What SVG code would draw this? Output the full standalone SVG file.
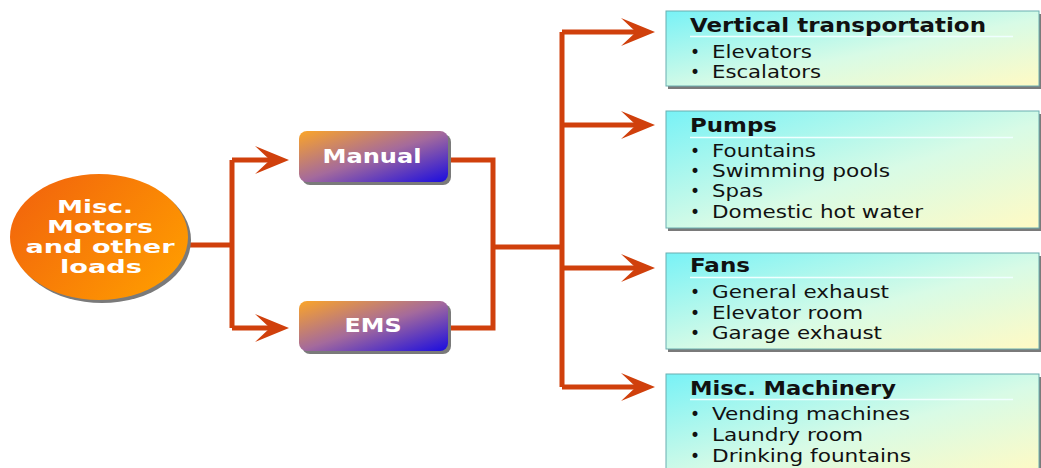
<svg xmlns="http://www.w3.org/2000/svg" width="1041" height="468" viewBox="0 0 1041 468">
<defs>
<linearGradient id="gOrange" x1="0" y1="0.2" x2="1" y2="0.8">
<stop offset="0" stop-color="#f2650c"/>
<stop offset="1" stop-color="#ff9d00"/>
</linearGradient>
<linearGradient id="gProc" x1="0" y1="0" x2="1" y2="1">
<stop offset="0" stop-color="#fba528"/>
<stop offset="0.5" stop-color="#a46a9c"/>
<stop offset="1" stop-color="#1a0ce0"/>
</linearGradient>
<linearGradient id="gBox" x1="0" y1="0" x2="1" y2="1">
<stop offset="0" stop-color="#78f2f6"/>
<stop offset="0.55" stop-color="#d8fbe6"/>
<stop offset="1" stop-color="#fffac4"/>
</linearGradient>
<polygon id="ah" points="0,0 -34,-14 -19,0 -34,14"/>
</defs>
<style>
.ln{fill:none;stroke:#d0400c;stroke-width:5;stroke-linejoin:miter;stroke-linecap:butt}
.arr{fill:#d0400c}
.sh{fill:#7a7a7a}
.box{fill:url(#gBox);stroke:#6aaeb0;stroke-width:1}
.proc{fill:url(#gProc)}
.wt{font-family:"DejaVu Sans",Verdana,sans-serif;font-weight:bold;fill:#ffffff;text-anchor:middle}
.tt{font-family:"DejaVu Sans",Verdana,sans-serif;font-weight:bold;font-size:19px;fill:#111111}
.it{font-family:"DejaVu Sans",Verdana,sans-serif;font-size:17px;fill:#111111}
.ul{stroke:#f0ffff;stroke-width:1.5}
</style>
<rect width="1041" height="468" fill="#ffffff"/>

<g id="connectors">
<path class="ln" d="M188,245 H232 M232,160 V328 M232,160 H272 M232,328 H272"/>
<use href="#ah" class="arr" x="289" y="160"/>
<use href="#ah" class="arr" x="289" y="328"/>
<path class="ln" d="M448,160 H493 V328 H448 M493,247 H562"/>
<path class="ln" d="M562,32 V387 M562,32 H638 M562,125 H638 M562,268 H638 M562,387 H638"/>
<use href="#ah" class="arr" x="655" y="32"/>
<use href="#ah" class="arr" x="655" y="125"/>
<use href="#ah" class="arr" x="655" y="268"/>
<use href="#ah" class="arr" x="655" y="387"/>
</g>

<g id="source">
<ellipse class="sh" cx="102" cy="240" rx="89" ry="63"/>
<ellipse cx="99" cy="237" rx="89" ry="63" fill="url(#gOrange)"/>
<text class="wt" font-size="18" x="95" y="213" textLength="76" lengthAdjust="spacingAndGlyphs">Misc.</text>
<text class="wt" font-size="18" x="100" y="233" textLength="106" lengthAdjust="spacingAndGlyphs">Motors</text>
<text class="wt" font-size="18" x="100" y="253" textLength="149" lengthAdjust="spacingAndGlyphs">and other</text>
<text class="wt" font-size="18" x="101" y="273" textLength="82" lengthAdjust="spacingAndGlyphs">loads</text>
</g>

<g id="manual">
<rect class="sh" x="302" y="134" width="149" height="51" rx="8"/>
<rect class="proc" x="299" y="131" width="149" height="51" rx="8"/>
<text class="wt" font-size="19" x="372" y="163" textLength="99" lengthAdjust="spacingAndGlyphs">Manual</text>
</g>

<g id="ems">
<rect class="sh" x="302" y="304" width="149" height="50" rx="8"/>
<rect class="proc" x="299" y="301" width="149" height="50" rx="8"/>
<text class="wt" font-size="19" x="373" y="332" textLength="57" lengthAdjust="spacingAndGlyphs">EMS</text>
</g>

<g id="vertical">
<rect class="sh" x="668" y="14" width="373" height="75"/>
<rect class="box" x="666" y="11" width="373" height="75"/>
<line class="ul" x1="690" y1="36.5" x2="1013" y2="36.5"/>
<text class="tt" x="690" y="32" textLength="296" lengthAdjust="spacingAndGlyphs">Vertical transportation</text>
<text class="it" x="690" y="58">•</text><text class="it" x="712" y="58" textLength="100" lengthAdjust="spacingAndGlyphs">Elevators</text>
<text class="it" x="690" y="78">•</text><text class="it" x="712" y="78" textLength="109" lengthAdjust="spacingAndGlyphs">Escalators</text>
</g>

<g id="pumps">
<rect class="sh" x="668" y="114" width="373" height="117"/>
<rect class="box" x="666" y="111" width="373" height="117"/>
<line class="ul" x1="690" y1="137.5" x2="1013" y2="137.5"/>
<text class="tt" x="690" y="132" textLength="87" lengthAdjust="spacingAndGlyphs">Pumps</text>
<text class="it" x="690" y="157">•</text><text class="it" x="712" y="157" textLength="104" lengthAdjust="spacingAndGlyphs">Fountains</text>
<text class="it" x="690" y="177">•</text><text class="it" x="712" y="177" textLength="178" lengthAdjust="spacingAndGlyphs">Swimming pools</text>
<text class="it" x="690" y="197">•</text><text class="it" x="712" y="197" textLength="51" lengthAdjust="spacingAndGlyphs">Spas</text>
<text class="it" x="690" y="218">•</text><text class="it" x="712" y="218" textLength="211" lengthAdjust="spacingAndGlyphs">Domestic hot water</text>
</g>

<g id="fans">
<rect class="sh" x="668" y="256" width="373" height="96"/>
<rect class="box" x="666" y="253" width="373" height="96"/>
<line class="ul" x1="690" y1="277.5" x2="1013" y2="277.5"/>
<text class="tt" x="690" y="272" textLength="60" lengthAdjust="spacingAndGlyphs">Fans</text>
<text class="it" x="690" y="298">•</text><text class="it" x="712" y="298" textLength="177" lengthAdjust="spacingAndGlyphs">General exhaust</text>
<text class="it" x="690" y="319">•</text><text class="it" x="712" y="319" textLength="151" lengthAdjust="spacingAndGlyphs">Elevator room</text>
<text class="it" x="690" y="339">•</text><text class="it" x="712" y="339" textLength="170" lengthAdjust="spacingAndGlyphs">Garage exhaust</text>
</g>

<g id="machinery">
<rect class="sh" x="668" y="377" width="373" height="100"/>
<rect class="box" x="666" y="374" width="373" height="100"/>
<line class="ul" x1="690" y1="399.5" x2="1013" y2="399.5"/>
<text class="tt" x="690" y="395" textLength="206" lengthAdjust="spacingAndGlyphs">Misc. Machinery</text>
<text class="it" x="690" y="420">•</text><text class="it" x="712" y="420" textLength="198" lengthAdjust="spacingAndGlyphs">Vending machines</text>
<text class="it" x="690" y="441">•</text><text class="it" x="712" y="441" textLength="151" lengthAdjust="spacingAndGlyphs">Laundry room</text>
<text class="it" x="690" y="462">•</text><text class="it" x="712" y="462" textLength="199" lengthAdjust="spacingAndGlyphs">Drinking fountains</text>
</g>
</svg>
